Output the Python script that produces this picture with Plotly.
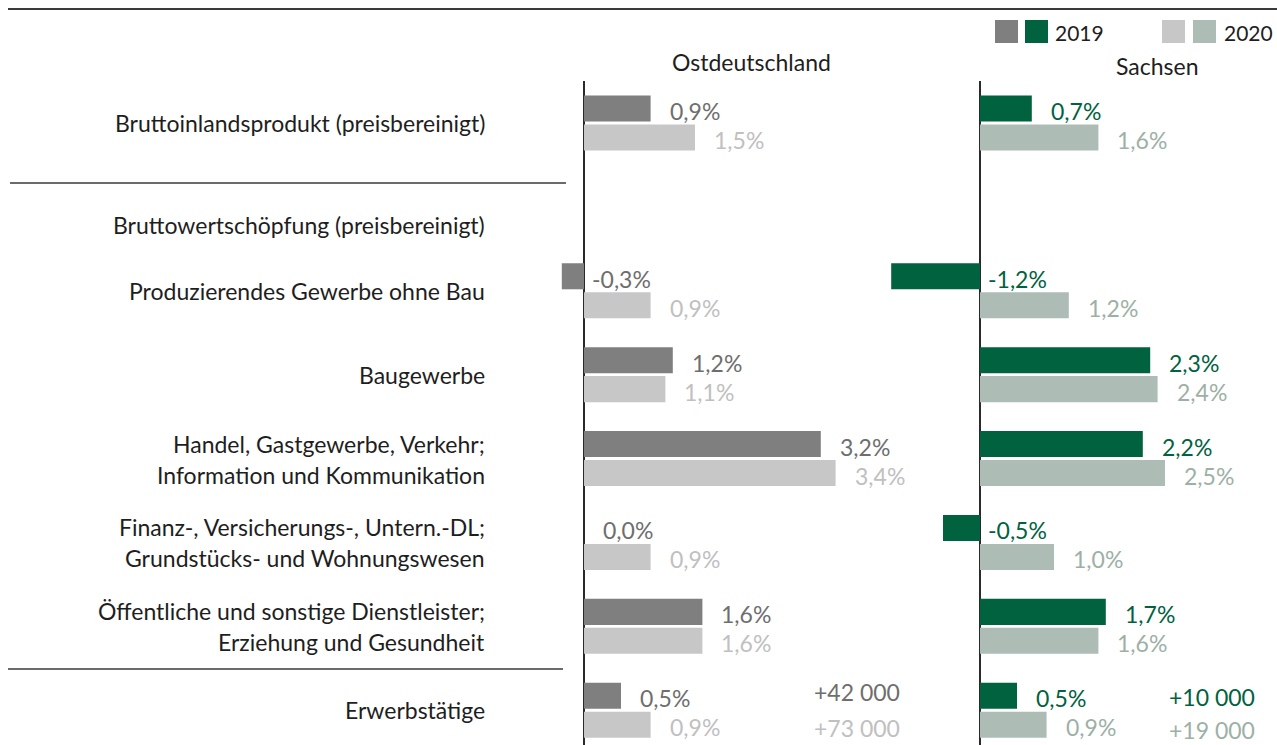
import plotly.graph_objects as go

# ---------------- data ----------------
rows = ["BIP", "BWS", "PROD", "BAU", "HANDEL", "FINANZ", "OEFF", "ERW"]
row_labels = [
    ["Bruttoinlandsprodukt (preisbereinigt)"],
    ["Bruttowertschöpfung (preisbereinigt)"],
    ["Produzierendes Gewerbe ohne Bau"],
    ["Baugewerbe"],
    ["Handel, Gastgewerbe, Verkehr;", "Information und Kommunikation"],
    ["Finanz-, Versicherungs-, Untern.-DL;", "Grundstücks- und Wohnungswesen"],
    ["Öffentliche und sonstige Dienstleister;", "Erziehung und Gesundheit"],
    ["Erwerbstätige"],
]
ost_2019 = [0.9, None, -0.3, 1.2, 3.2, 0.0, 1.6, 0.5]
ost_2020 = [1.5, None, 0.9, 1.1, 3.4, 0.9, 1.6, 0.9]
sn_2019 = [0.7, None, -1.2, 2.3, 2.2, -0.5, 1.7, 0.5]
sn_2020 = [1.6, None, 1.2, 2.4, 2.5, 1.0, 1.6, 0.9]
erw_abs_ost = ["+42 000", "+73 000"]
erw_abs_sn = ["+10 000", "+19 000"]
panel_titles = ["Ostdeutschland", "Sachsen"]
years = ["2019", "2020"]

# ---------------- style ----------------
FONT = "Lato"
FS = 23
C_OST19, C_OST20 = "#7f7f7f", "#c6c7c6"
C_SN19, C_SN20 = "#00623f", "#adbdb5"
T_OST19, T_OST20 = "#6e6e6e", "#c0c0c0"
T_SN19, T_SN20 = "#00623f", "#9db0a6"
TXT = "#1e1e1e"
W, H = 1277, 745
PX_PER_UNIT = 74.0
ZERO_OST, ZERO_SN = 584, 980
TOP = 81
ROW_PX = 83.9

fig = go.Figure()

def bar(vals, color, name, xaxis):
    return go.Bar(y=rows, x=vals, orientation="h", marker=dict(color=color, line=dict(width=0)),
                  name=name, xaxis=xaxis, yaxis="y", showlegend=False, hoverinfo="x+y")

fig.add_trace(bar(ost_2019, C_OST19, "Ostdeutschland 2019", "x"))
fig.add_trace(bar(ost_2020, C_OST20, "Ostdeutschland 2020", "x"))
fig.add_trace(bar(sn_2019, C_SN19, "Sachsen 2019", "x2"))
fig.add_trace(bar(sn_2020, C_SN20, "Sachsen 2020", "x2"))

def fmt(v):
    return f"{v:.1f}".replace(".", ",") + "%"

def py(y):
    return 1 - y / H

ann = []
def value_labels(vals, xref, color, ysh):
    for r, v in zip(rows, vals):
        if v is None:
            continue
        ann.append(dict(x=max(v, 0), y=r, xref=xref, yref="y", text=fmt(v), showarrow=False,
                        xanchor="left", yanchor="middle", xshift=(6 if v < 0 else 17), yshift=ysh,
                        font=dict(family=FONT, size=FS, color=color)))

value_labels(ost_2019, "x", T_OST19, 12)
value_labels(ost_2020, "x", T_OST20, -17)
value_labels(sn_2019, "x2", T_SN19, 12)
value_labels(sn_2020, "x2", T_SN20, -17)

# category labels
for r, lines in zip(rows, row_labels):
    if len(lines) == 1:
        shifts = [-18] if r == "BWS" else [0]
    else:
        shifts = [15, -16]
    for t, s in zip(lines, shifts):
        ann.append(dict(x=487 / W, y=r, xref="paper", yref="y", text=t, showarrow=False,
                        xanchor="right", yanchor="middle", yshift=s,
                        font=dict(family=FONT, size=FS, color=TXT)))

# absolute employment changes
for txt, col, ysh in zip(erw_abs_ost, [T_OST19, T_OST20], [18, -18]):
    ann.append(dict(x=902 / W, y="ERW", xref="paper", yref="y", text=txt, showarrow=False,
                    xanchor="right", yanchor="middle", yshift=ysh,
                    font=dict(family=FONT, size=FS, color=col)))
for txt, col, ysh in zip(erw_abs_sn, [T_SN19, T_SN20], [13, -20]):
    ann.append(dict(x=1257 / W, y="ERW", xref="paper", yref="y", text=txt, showarrow=False,
                    xanchor="right", yanchor="middle", yshift=ysh,
                    font=dict(family=FONT, size=FS, color=col)))

# panel titles
ann.append(dict(x=751 / W, y=py(62), xref="paper", yref="paper", text=panel_titles[0],
                showarrow=False, xanchor="center", yanchor="middle",
                font=dict(family=FONT, size=FS, color=TXT)))
ann.append(dict(x=1157 / W, y=py(66), xref="paper", yref="paper", text=panel_titles[1],
                showarrow=False, xanchor="center", yanchor="middle",
                font=dict(family=FONT, size=FS, color=TXT)))

# legend (custom)
shapes = []
def sq(x0, color):
    shapes.append(dict(type="rect", xref="paper", yref="paper", x0=x0 / W, x1=(x0 + 23) / W,
                       y0=py(43), y1=py(20), fillcolor=color, line=dict(width=0)))
sq(995, C_OST19); sq(1025, C_SN19); sq(1162, C_OST20); sq(1193, C_SN20)
ann.append(dict(x=1053 / W, y=py(32), xref="paper", yref="paper", text=years[0], showarrow=False,
                xanchor="left", yanchor="middle", font=dict(family=FONT, size=21, color=TXT)))
ann.append(dict(x=1222 / W, y=py(32), xref="paper", yref="paper", text=years[1], showarrow=False,
                xanchor="left", yanchor="middle", font=dict(family=FONT, size=21, color=TXT)))

# separator lines
def hline(y, x0, x1, w=2):
    shapes.append(dict(type="line", xref="paper", yref="paper", x0=x0 / W, x1=x1 / W,
                       y0=py(y), y1=py(y), line=dict(color="#3a3a3a", width=w)))
hline(9, 8, 1277)
hline(183, 10, 566, 1.5)
hline(669, 8, 563, 1.5)

rows_span = (H - TOP) / ROW_PX
fig.update_layout(
    width=W, height=H, margin=dict(l=0, r=0, t=0, b=0, pad=0),
    paper_bgcolor="white", plot_bgcolor="rgba(0,0,0,0)",
    barmode="group", bargap=0.31, bargroupgap=0.1,
    xaxis=dict(domain=[0, 1], range=[-ZERO_OST / PX_PER_UNIT, (W - ZERO_OST) / PX_PER_UNIT],
               showgrid=False, showticklabels=False, ticks="", zeroline=True,
               zerolinecolor="#2a2a2a", zerolinewidth=1.5, fixedrange=True),
    xaxis2=dict(domain=[0, 1], range=[-ZERO_SN / PX_PER_UNIT, (W - ZERO_SN) / PX_PER_UNIT],
                overlaying="x", anchor="y", showgrid=False, showticklabels=False, ticks="",
                zeroline=True, zerolinecolor="#2a2a2a", zerolinewidth=1.5, fixedrange=True),
    yaxis=dict(type="category", categoryorder="array", categoryarray=rows,
               domain=[0, (H - TOP) / H],
               range=[rows_span - 0.5, -0.5], showgrid=False, showticklabels=False,
               ticks="", zeroline=False, fixedrange=True),
    annotations=ann, shapes=shapes, showlegend=False,
    font=dict(family=FONT, size=FS, color=TXT),
)

fig.write_html("out.html", config={"displayModeBar": False},
               post_script="document.body.style.margin='0';document.body.style.overflow='hidden';")
